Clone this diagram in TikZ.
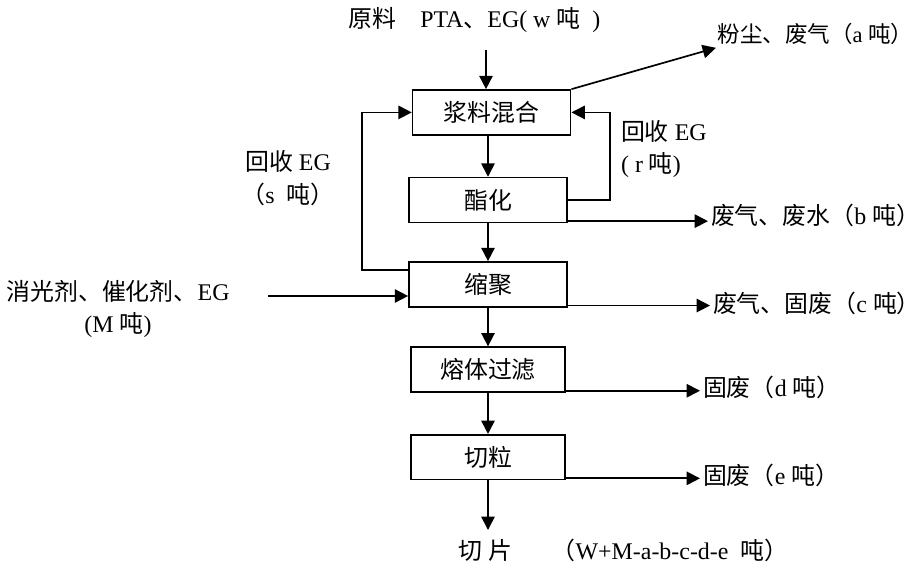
\documentclass[tikz,border=0pt]{standalone}
\usepackage{fontspec}
\setmainfont{Liberation Serif}
\newfontfamily\cjk{Noto Sans CJK SC}
\newcommand{\zh}[1]{{\cjk #1}}
\usetikzlibrary{positioning,arrows.meta,calc}

\begin{document}
\begin{tikzpicture}[font=\fontsize{17}{23}\selectfont, >={Triangle[length=9.5pt,width=9.5pt]},
    stage/.style={draw, line width=1.2pt, minimum width=3.95cm, minimum height=1.12cm, inner sep=2pt},
    flow/.style={->, line width=1.2pt},
    note/.style={inner sep=2pt}]
        % Main line: slurry mixing down to chip cutting, losses leave to the right.
        % EG is recovered from esterification and polycondensation back to mixing.
        \useasboundingbox (0,0) rectangle (23,-14.25);
        \node[stage] (mix) at (12.29,-2.81) {\zh{浆料混合}};
        \node[stage] (ester) at (12.2,-5.0) {\zh{酯化}};
        \node[stage] (poly) at (12.2,-7.11) {\zh{缩聚}};
        \node[stage, minimum width=3.85cm] (filter) at (12.2,-9.24) {\zh{熔体过滤}};
        \node[stage, minimum width=3.85cm] (cut) at (12.2,-11.43) {\zh{切粒}};

        \node[note] (feed) at (11.86,-0.5) {\zh{原料}\quad PTA\zh{、}EG( w \zh{吨}\ \ )};
        \coordinate (feedin) at (12.15,-1.25);
        \draw[flow] (feedin) -- (feedin |- mix.north);

        \node[note, inner xsep=1pt, anchor=west, font=\fontsize{16}{23}\selectfont] (dust) at (17.9,-0.85) {\zh{粉尘、废气（}a \zh{吨）}};
        \draw[flow] (mix.north east) -- (dust.south west);

        \draw[flow] (mix.south -| ester.north) -- (ester.north);
        \draw[flow] (ester) -- (poly);
        \draw[flow] (poly) -- (filter);
        \draw[flow] (filter) -- (cut);

        \node[note, anchor=west] (wasteb) at (17.7,-5.375) {\zh{废气、废水（}b \zh{吨）}};
        \node[note, anchor=west] (wastec) at (17.75,-7.575) {\zh{废气、固废（}c \zh{吨）}};
        \node[note, anchor=west] (wasted) at (17.5,-9.675) {\zh{固废（}d \zh{吨）}};
        \node[note, anchor=west] (wastee) at (17.5,-11.875) {\zh{固废（}e \zh{吨）}};
        \foreach \s/\t in {ester/wasteb, poly/wastec, filter/wasted, cut/wastee}
          \draw[flow] ([yshift=1.5pt]\s.south east) coordinate (from) -- (from -| \t.west);

        % recovered EG
        \draw[flow] (ester.east) -- ++(1.05,0) |- (mix.east);
        \node[note, anchor=west, align=left] (recr) at (15.45,-3.725) {\zh{回收} EG\\( r \zh{吨})};
        \draw[flow] ([yshift=-0.22cm]poly.north west) -- ++(-1.15,0) |- (mix.west);
        \node[note, align=center] (recs) at (7.2,-4.45) {\zh{回收} EG\\\zh{（}s\ \ \zh{吨）}};

        \node[note, align=center] (additive) at (2.95,-7.725) {\zh{消光剂、催化剂、}EG\\(M \zh{吨})};
        \coordinate (addin) at (6.7,-7.4);
        \draw[flow] (addin) -- (addin -| poly.west);

        \coordinate (prodout) at (12.2,-13.25);
        \draw[flow] (cut.south) -- (prodout);
        \node[note] (prodname) at (12.13,-13.75) {\zh{切}\ \zh{片}};
        \node[note] (prodmass) at (16.75,-13.75) {\zh{（}W+M-a-b-c-d-e\ \ \zh{吨）}};
      \end{tikzpicture}
\end{document}
